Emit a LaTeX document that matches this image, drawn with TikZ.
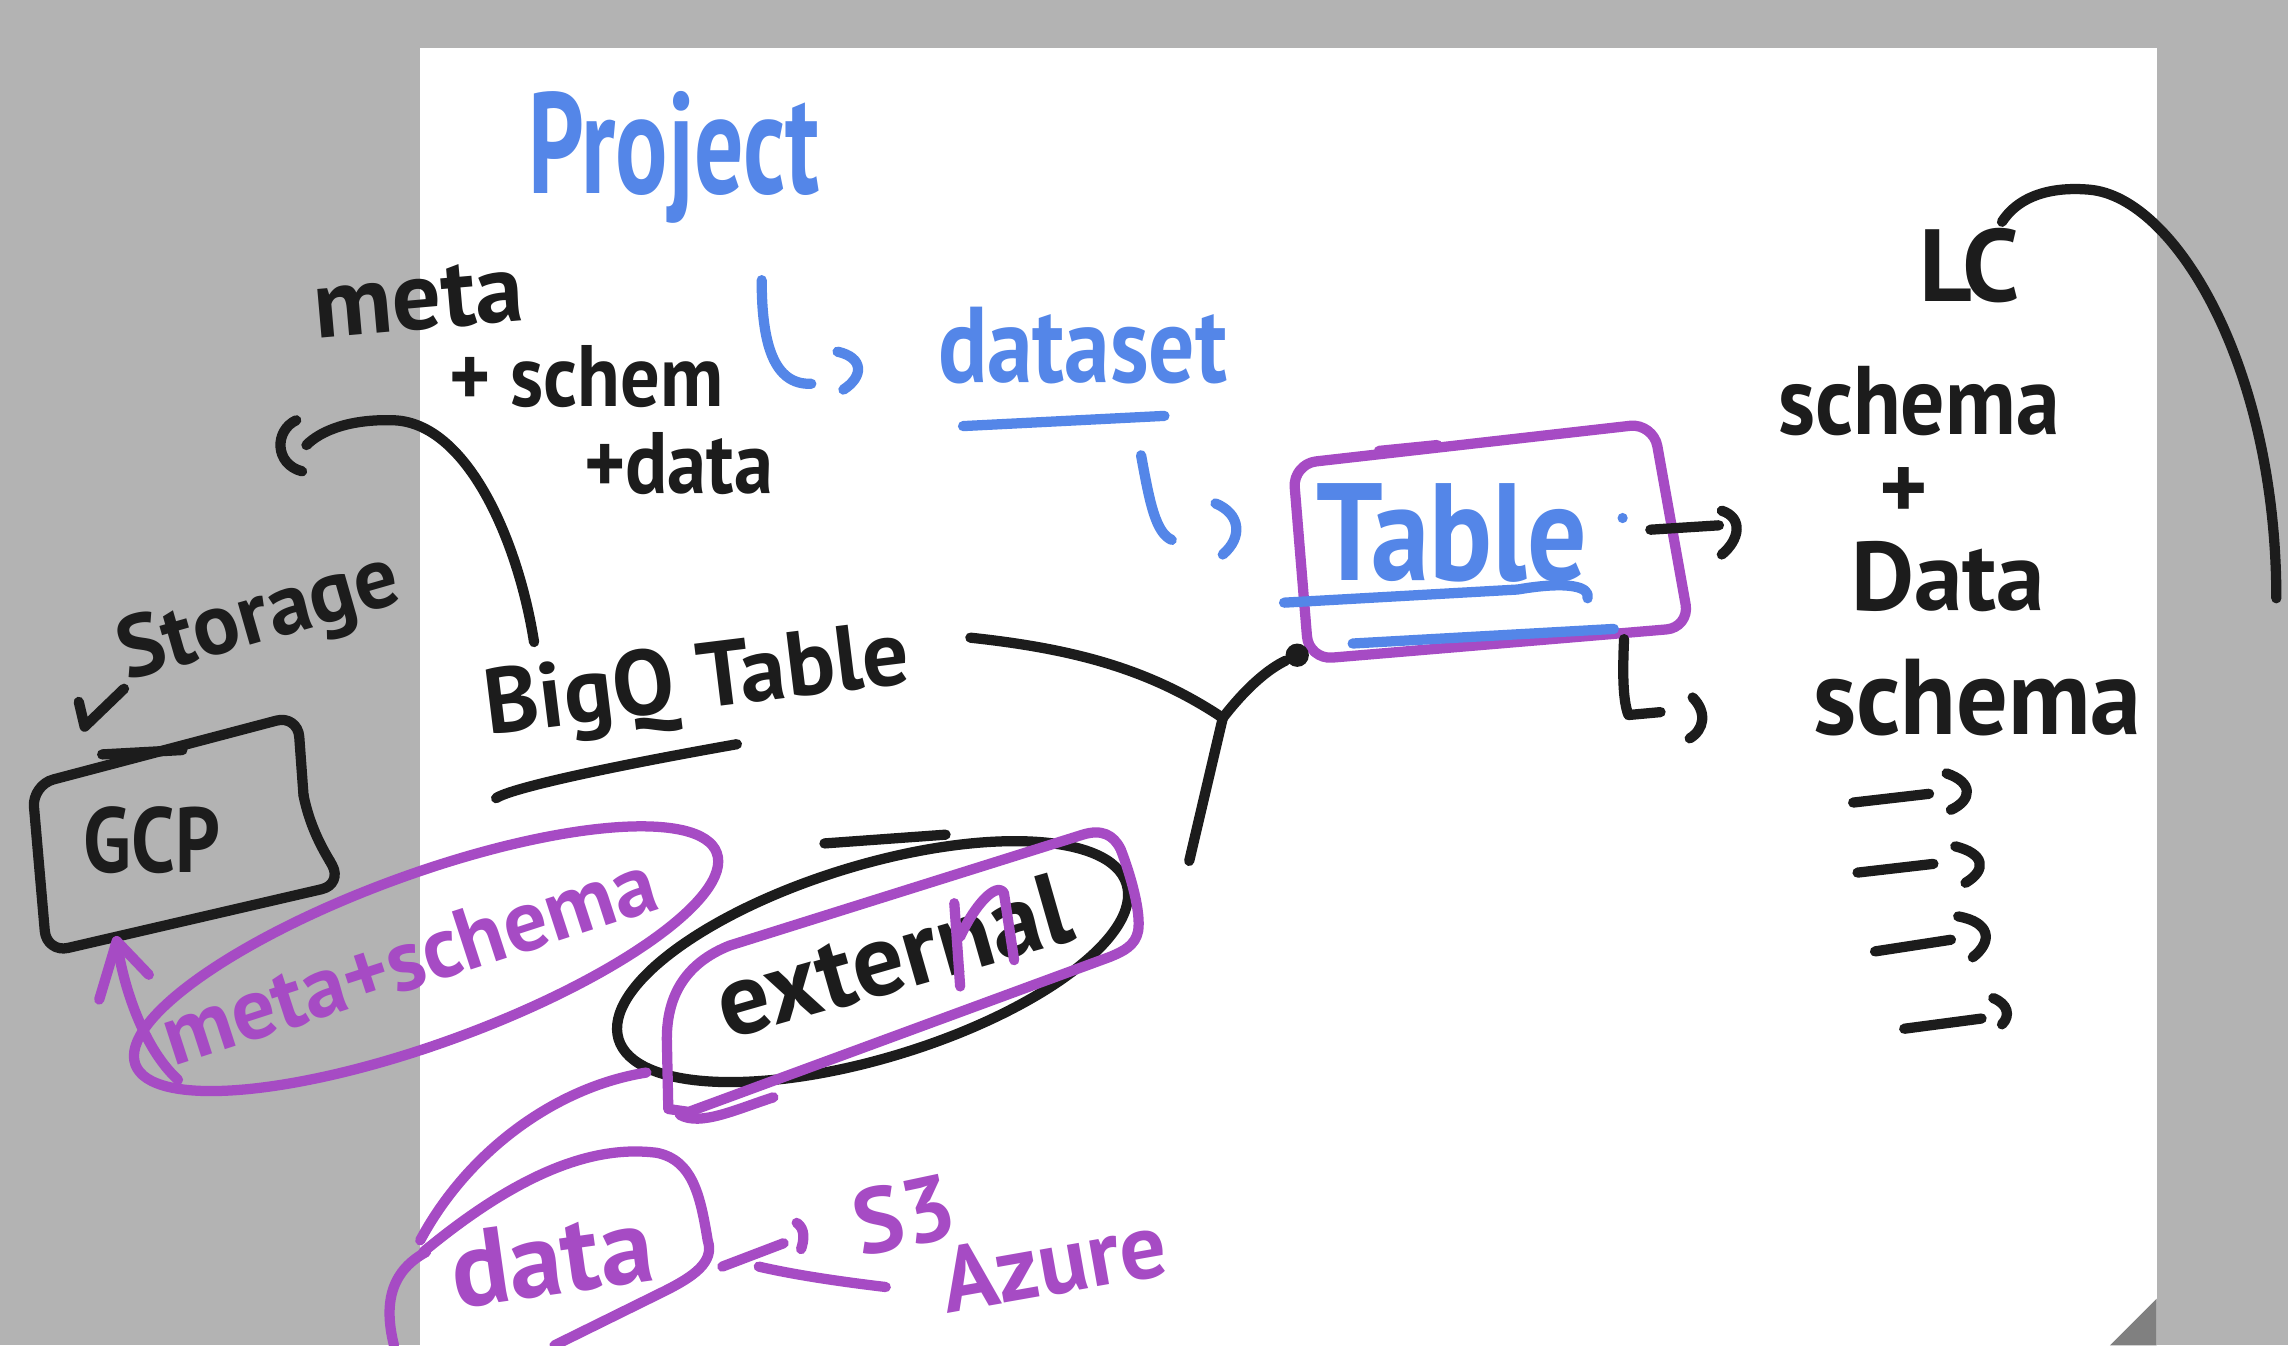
\documentclass[tikz,border=0pt]{standalone}
\usepackage{fontspec}
\setmainfont{PT Sans}
\definecolor{bg}{HTML}{B3B3B3}
\definecolor{ink}{HTML}{1C1C1C}
\definecolor{blu}{HTML}{5486E8}
\definecolor{pur}{HTML}{A64BC4}
\definecolor{fold}{HTML}{808080}
\newcommand\hwsize[1]{\fontsize{#1}{#1}\selectfont\bfseries}
\begin{document}
\begin{tikzpicture}[x=0.1mm,y=-0.1mm,line cap=round,line join=round,
  pen/.style={line width=2pt},
  kpen/.style={pen,draw=ink},
  bpen/.style={pen,draw=blu},
  ppen/.style={pen,draw=pur},
  hw/.style={inner sep=0pt,anchor=center},
  kt/.style={hw,text=ink},
  bt/.style={hw,text=blu},
  pt/.style={hw,text=pur}]
\fill[bg] (0,0) rectangle (1568,922);
\useasboundingbox (0,0) rectangle (1568,922);
\fill[white] (288,33) rectangle (1478,922);
\fill[fold] (1478,890) -- (1446,922) -- (1478,922) -- cycle;

% ---- blue hierarchy ----
\node[bt,font=\hwsize{28pt},xscale=0.68] (project) at (462,108) {Project};
\draw[bpen] (522,192) .. controls (522,235) and (530,264) .. (556,263);
\draw[bpen] (574,241) .. controls (592,245) and (592,258) .. (578,267);
\node[bt,font=\hwsize{21pt},xscale=0.85] (dataset) at (742,237) {dataset};
\draw[bpen] (660,292) -- (798,285);
\draw[bpen] (782,312) .. controls (788,345) and (792,365) .. (803,370);
\draw[bpen] (833,345) .. controls (850,352) and (852,368) .. (838,380);

% Table box
\draw[ppen,rounded corners=1.6mm] (886,318) -- (1133,290) -- (1158,430) -- (897,452) -- cycle;
\draw[ppen] (945,309) -- (985,305);
\node[bt,font=\hwsize{27pt},xscale=0.85] (table) at (995,365) {Table};
\fill[blu] (1112,355) circle (3.5);
\draw[bpen] (880,413) -- (1040,404) .. controls (1075,398) and (1090,402) .. (1088,410);
\draw[bpen] (927,441) -- (1106,431);

% arrow right of table
\coordinate (tr) at (1131,363);
\draw[kpen] (tr) -- (1178,360);
\draw[kpen] (1180,350) .. controls (1195,355) and (1192,370) .. (1180,380);
% hook below table
\draw[kpen] (1113,438) .. controls (1112,460) and (1112,480) .. (1116,490) -- (1138,488);
\draw[kpen] (1160,478) .. controls (1170,488) and (1168,500) .. (1158,506);

% ---- right column ----
\node[kt,font=\hwsize{20pt}] (lc) at (1350,182) {LC};
\draw[kpen] (1372,152) .. controls (1385,132) and (1410,128) .. (1432,130) .. controls (1490,135) and (1560,250) .. (1560,410);
\node[kt,font=\hwsize{19pt},xscale=0.9] (schema1) at (1315,275) {schema};
\node[kt,font=\hwsize{18pt}] (plus) at (1305,338) {+};
\node[kt,font=\hwsize{19pt}] (data1) at (1335,395) {Data};
\node[kt,font=\hwsize{21pt},xscale=0.95] (schema2) at (1355,478) {schema};
\draw[kpen] (1270,550) -- (1322,544);
\draw[kpen] (1334,530) .. controls (1352,536) and (1352,548) .. (1337,555);
\draw[kpen] (1273,598) -- (1325,592);
\draw[kpen] (1340,580) .. controls (1360,585) and (1362,596) .. (1347,605);
\draw[kpen] (1285,652) -- (1337,644);
\draw[kpen] (1342,628) .. controls (1364,632) and (1366,645) .. (1352,656);
\draw[kpen] (1305,705) -- (1358,698);
\draw[kpen] (1366,684) .. controls (1376,688) and (1378,696) .. (1372,702);

% ---- left: meta + schema + data, BigQ ----
\node[kt,font=\hwsize{19pt},rotate=5] (meta) at (287,205) {meta};
\node[kt,font=\hwsize{17pt},xscale=0.9] (schem) at (402,258) {+ schem};
\node[kt,font=\hwsize{17pt},xscale=0.9] (pdata) at (465,318) {+data};
\node[kt,font=\hwsize{18pt},rotate=7] (bigq) at (478,470) {BigQ Table};
\draw[kpen] (340,547) .. controls (350,540) and (420,525) .. (505,510);
\draw[kpen] (366,440) .. controls (355,370) and (320,290) .. (270,288) .. controls (240,287) and (220,295) .. (210,305);
\draw[kpen] (203,288) .. controls (188,295) and (188,318) .. (207,323);

% fork connector
\node[circle,fill=ink,minimum size=1.6mm,inner sep=0pt] (dot) at (889,449) {};
\coordinate (fork) at (838,492);
\coordinate (bqend) at (665,437);
\coordinate (down) at (815,590);
\draw[kpen] (bqend) .. controls (740,445) and (790,460) .. (fork);
\draw[kpen] (fork) .. controls (855,470) and (870,458) .. (dot);
\draw[kpen] (fork) -- (down);

% Storage / GCP
\node[kt,font=\hwsize{17pt},rotate=16] (storage) at (178,425) {Storage};
\draw[kpen] (54,481) -- (58,498) -- (85,472);
\draw[kpen,rounded corners=1.5mm] (208,545) -- (204,490) -- (22,538) -- (32,653) -- (235,606) -- (226,590);
\draw[kpen] (208,545) .. controls (212,565) and (220,580) .. (226,590);
\draw[kpen] (70,517) -- (125,514);
\node[kt,font=\hwsize{18pt},xscale=0.85] (gcp) at (104,576) {GCP};

% meta+schema ellipse and arrow
\draw[ppen,rotate around={20:(292,657)}] (292,657) ellipse [x radius=212, y radius=58];
\node[pt,font=\hwsize{17pt},rotate=18] (ms) at (280,657) {meta+schema};
\draw[ppen] (122,740) .. controls (100,720) and (85,680) .. (80,645);
\draw[ppen] (68,685) -- (80,645) -- (102,668);

% external
\draw[kpen,rotate around={17:(598,659)}] (598,659) ellipse [x radius=182, y radius=66];
\draw[kpen] (565,578) -- (648,572);
\draw[ppen] (458,760) -- (457,712) .. controls (457,682) and (470,660) .. (500,648) -- (742,572) .. controls (755,568) and (763,572) .. (768,582) .. controls (775,600) and (782,625) .. (780,638) .. controls (778,648) and (770,652) .. (760,656) -- (472,762) -- cycle;
\draw[ppen] (466,764) .. controls (480,772) and (505,760) .. (530,752);
\node[kt,font=\hwsize{20pt},rotate=16] (external) at (612,655) {external};
\draw[ppen] (654,619) -- (658,676);
\draw[ppen] (658,642) .. controls (668,620) and (683,604) .. (688,612) -- (695,658);

% data
\draw[ppen] (443,735) .. controls (380,745) and (320,790) .. (288,850);
\draw[ppen] (290,858) .. controls (360,800) and (410,785) .. (450,790) .. controls (475,795) and (480,820) .. (485,850) .. controls (490,865) and (475,875) .. (455,885) -- (380,922);
\draw[ppen] (292,858) .. controls (270,870) and (262,890) .. (270,922);
\node[pt,font=\hwsize{21pt},rotate=8] (data2) at (378,862) {data};
\draw[ppen] (495,868) -- (537,852);
\draw[ppen] (546,838) .. controls (552,842) and (551,850) .. (549,856);
\draw[ppen] (520,868) .. controls (550,875) and (590,880) .. (607,882);
\node[pt,font=\hwsize{18pt},rotate=12] (s3) at (620,832) {S3};
\node[pt,font=\hwsize{18pt},rotate=10] (azure) at (722,865) {Azure};
\end{tikzpicture}
\end{document}
